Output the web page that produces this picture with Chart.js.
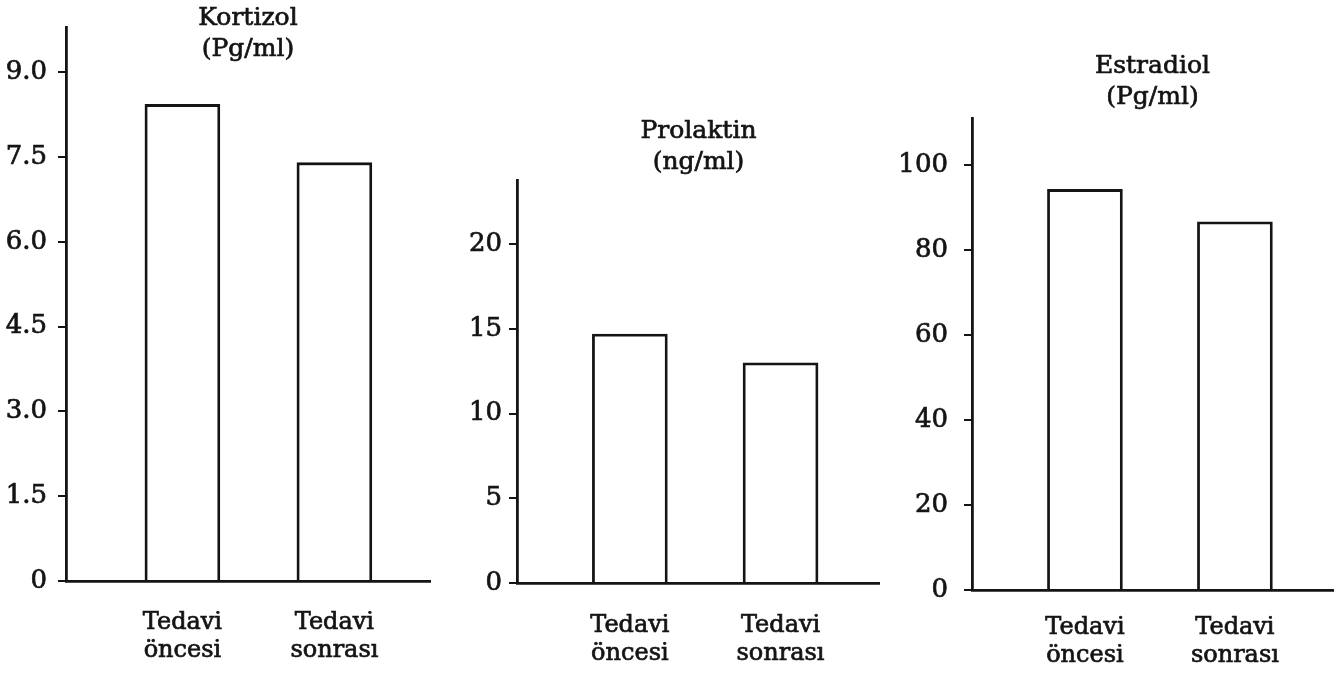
<!DOCTYPE html>
<html>
<head>
<meta charset="utf-8">
<script src="https://cdn.jsdelivr.net/npm/chart.js@4"></script>
<style>
  html, body { margin: 0; padding: 0; background: #fff; }
  body { width: 1344px; height: 682px; position: relative; overflow: hidden; }
  canvas { position: absolute; top: 0; }
</style>
</head>
<body>
<canvas id="kortizol" width="450" height="682" style="left:0px"></canvas>
<canvas id="prolaktin" width="430" height="682" style="left:450px"></canvas>
<canvas id="estradiol" width="464" height="682" style="left:880px"></canvas>
<script>
// data
const categories = [['Tedavi', 'öncesi'], ['Tedavi', 'sonrası']];

const kortizolValues = [8.43, 7.4];
const prolaktinValues = [14.7, 13.0];
const estradiolValues = [94.2, 86.6];

const kortizolTicks = [0, 1.5, 3, 4.5, 6, 7.5, 9];
const prolaktinTicks = [0, 5, 10, 15, 20];
const estradiolTicks = [0, 20, 40, 60, 80, 100];

const kortizolTitle = ['Kortizol', '(Pg/ml)'];
const prolaktinTitle = ['Prolaktin', '(ng/ml)'];
const estradiolTitle = ['Estradiol', '(Pg/ml)'];

const ink = '#141414';
const serif = "'DejaVu Serif', 'Liberation Serif', serif";
Chart.defaults.color = ink;
Chart.defaults.font.family = serif;

// two-line title above the panel, centred on the plot area
const panelTitle = {
    id: 'panelTitle',
    afterDraw(chart, args, opts) {
        const { ctx, chartArea } = chart;
        ctx.save();
        ctx.fillStyle = ink;
        ctx.strokeStyle = ink;
        ctx.lineWidth = 0.7;
        ctx.font = '25px ' + serif;
        ctx.textAlign = 'center';
        ctx.textBaseline = 'alphabetic';
        const cx = (chartArea.left + chartArea.right) / 2;
        opts.lines.forEach((line, i) => {
            const y = chartArea.top + opts.y + i * opts.gap;
            ctx.fillText(line, cx, y);
            ctx.strokeText(line, cx, y);
        });
        ctx.restore();
    }
};

const makePanel = (id, values, yTicks, yMax, title, layout) => {
    const ctx = document.getElementById(id).getContext('2d');
    return new Chart(ctx, {
        type: 'bar',
        data: {
            datasets: [{
                data: values.map((v, i) => ({ x: i + 1, y: v })),
                backgroundColor: '#ffffff',
                borderColor: ink,
                borderWidth: 2.8,
                barThickness: 75
            }]
        },
        plugins: [panelTitle],
        options: {
            responsive: false,
            animation: false,
            layout: { padding: layout.padding },
            plugins: {
                legend: { display: false },
                tooltip: { enabled: false },
                panelTitle: { lines: title, y: layout.titleY, gap: 31 }
            },
            scales: {
                x: {
                    type: 'linear',
                    offset: false,
                    min: layout.xMin,
                    max: layout.xMax,
                    afterBuildTicks: (scale) => {
                        scale.ticks = categories.map((c, i) => ({ value: i + 1 }));
                    },
                    afterFit: (scale) => { scale.height = 90; },
                    grid: { display: false, drawTicks: false },
                    border: { display: true, color: ink, width: 2.8 },
                    ticks: {
                        padding: layout.labelPad,
                        maxRotation: 0,
                        autoSkip: false,
                        font: { size: 24, lineHeight: 1.17 },
                        textStrokeColor: ink,
                        textStrokeWidth: 0.7,
                        callback: (v) => categories[v - 1]
                    }
                },
                y: {
                    min: 0,
                    max: yMax,
                    afterBuildTicks: (scale) => {
                        scale.ticks = yTicks.map(v => ({ value: v }));
                    },
                    afterFit: (scale) => { scale.width = layout.yWidth; },
                    grid: {
                        drawOnChartArea: false,
                        drawTicks: true,
                        tickLength: 8,
                        color: ink,
                        lineWidth: 2
                    },
                    border: { display: true, color: ink, width: 2.8 },
                    ticks: {
                        padding: layout.tickPad,
                        font: { size: 26 },
                        textStrokeColor: ink,
                        textStrokeWidth: 0.7,
                        callback: (v) => (yTicks === kortizolTicks && v !== 0) ? v.toFixed(1) : String(v)
                    }
                }
            }
        }
    });
};

makePanel('kortizol', kortizolValues, kortizolTicks, 9.8, kortizolTitle, {
    padding: { left: 0, right: 20, top: 27, bottom: 11 }, yWidth: 66,
    xMin: 0.234, xMax: 2.629, titleY: -2, labelPad: 28, tickPad: 11
});
makePanel('prolaktin', prolaktinValues, prolaktinTicks, 23.8, prolaktinTitle, {
    padding: { left: 0, right: -2, top: 180, bottom: 9 }, yWidth: 67,
    xMin: 0.251, xMax: 2.66, titleY: -42, labelPad: 29, tickPad: 7
});
makePanel('estradiol', estradiolValues, estradiolTicks, 111, estradiolTitle, {
    padding: { left: 0, right: 11, top: 118, bottom: 2 }, yWidth: 92,
    xMin: 0.247, xMax: 2.654, titleY: -45, labelPad: 24, tickPad: 16
});
</script>
</body>
</html>
